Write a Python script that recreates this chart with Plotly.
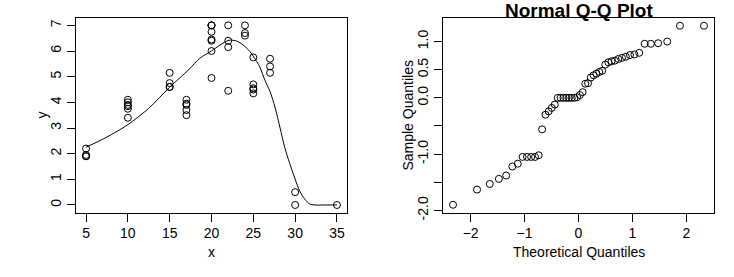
import plotly.graph_objects as go

# ---------------- data ----------------
# left panel: scatter points
scatter_x = [5, 5, 5, 5,
             10, 10, 10, 10, 10, 10,
             15, 15, 15, 15,
             17, 17, 17, 17, 17,
             20, 20, 20, 20, 20, 20, 20, 20,
             22, 22, 22, 22,
             24, 24, 24,
             25, 25, 25, 25, 25,
             27, 27, 27,
             30, 30,
             35]
scatter_y = [2.2, 1.95, 1.9, 1.9,
             4.1, 4.0, 3.9, 3.85, 3.75, 3.4,
             5.15, 4.75, 4.6, 4.6,
             4.1, 3.95, 3.9, 3.7, 3.5,
             7.0, 7.0, 7.0, 6.75, 6.45, 6.4, 6.0, 4.95,
             7.0, 6.4, 6.15, 4.45,
             7.0, 6.7, 6.6,
             5.75, 4.7, 4.55, 4.5, 4.35,
             5.7, 5.4, 5.15,
             0.5, 0.0,
             0.0]

# left panel: fitted smooth curve
curve_x = [5, 7.5, 10, 12.5, 15, 17.3, 18.6, 20, 21, 22.1, 23.0, 23.8, 24.6,
           25.05, 25.77, 26.4, 27.0, 27.6, 28.2, 28.75, 29.35, 29.95, 30.55,
           31.14, 31.74, 32.3, 33.5, 35]
curve_y = [2.25, 2.65, 3.13, 3.77, 4.59, 5.28, 5.72, 6.0, 6.23, 6.42, 6.39,
           6.23, 5.98, 5.77, 5.38, 4.85, 4.42, 3.8, 3.0, 2.25, 1.62, 1.05,
           0.54, 0.23, 0.04, 0.0, 0.0, 0.0]

# right panel: normal Q-Q plot
theoretical_q = [-2.3263, -1.8808, -1.6449, -1.4758, -1.3408, -1.2265, -1.1264,
                 -1.0364, -0.9542, -0.8779, -0.8064, -0.7388, -0.6745, -0.6128,
                 -0.5534, -0.4959, -0.4399, -0.3853, -0.3319, -0.2793, -0.2275,
                 -0.1764, -0.1257, -0.0753, -0.0251,
                 0.0251, 0.0753, 0.1257, 0.1764, 0.2275, 0.2793, 0.3319, 0.3853,
                 0.4399, 0.4959, 0.5534, 0.6128, 0.6745, 0.7388, 0.8064, 0.8779,
                 0.9542, 1.0364, 1.1264, 1.2265, 1.3408, 1.4758, 1.6449, 1.8808,
                 2.3263]
sample_q = [-1.90, -1.63, -1.53, -1.44, -1.38, -1.22, -1.17, -1.05, -1.05, -1.05,
            -1.05, -1.02, -0.56, -0.30, -0.24, -0.18, -0.12, 0.0, 0.0, 0.0,
            0.0, 0.0, 0.0, 0.0, 0.01,
            0.05, 0.10, 0.25, 0.26, 0.36, 0.40, 0.43, 0.46, 0.48, 0.59,
            0.63, 0.65, 0.66, 0.69, 0.71, 0.73, 0.76, 0.77, 0.80, 0.96,
            0.96, 0.97, 1.00, 1.28, 1.28]

left_xticks = [5, 10, 15, 20, 25, 30, 35]
left_yticks = [0, 1, 2, 3, 4, 5, 6, 7]
right_xticks = [-2, -1, 0, 1, 2]
right_yticks = [-2.0, -1.5, -1.0, -0.5, 0.0, 0.5, 1.0]
right_yticktext = ["-2.0", "", "-1.0", "", "0.0", "0.5", "1.0"]

# ---------------- layout helpers ----------------
W, H = 734, 277
FONT = "Liberation Sans, Arial, sans-serif"

def px_x(p):
    return p / W

def px_y(p):
    return 1 - p / H

left_dom = [px_x(76), px_x(347)]
right_dom = [px_x(443), px_x(714)]
y_dom = [px_y(219), px_y(19)]

fig = go.Figure()

marker = dict(symbol="circle-open", size=7, color="black", line=dict(width=1, color="black"))

fig.add_trace(go.Scatter(x=curve_x, y=curve_y, mode="lines",
                         line=dict(color="black", width=1, shape="spline", smoothing=0.8),
                         xaxis="x", yaxis="y", showlegend=False, hoverinfo="skip"))
fig.add_trace(go.Scatter(x=scatter_x, y=scatter_y, mode="markers", marker=marker,
                         xaxis="x", yaxis="y", showlegend=False))
fig.add_trace(go.Scatter(x=theoretical_q, y=sample_q, mode="markers", marker=marker,
                         xaxis="x2", yaxis="y2", showlegend=False))

axis_common = dict(showline=True, linecolor="black", linewidth=1, mirror=True,
                   ticks="outside", ticklen=8, tickwidth=1, tickcolor="black",
                   showgrid=False, zeroline=False,
                   tickfont=dict(family=FONT, size=14, color="black"))

fig.update_layout(
    width=W, height=H, autosize=False,
    margin=dict(l=0, r=0, t=0, b=0, pad=0),
    paper_bgcolor="white", plot_bgcolor="white",
    xaxis=dict(domain=left_dom, range=[3.8, 36.2], tickvals=left_xticks,
               anchor="y", **axis_common),
    yaxis=dict(domain=y_dom, range=[-0.30, 7.27], tickvals=left_yticks,
               tickangle=-90, anchor="x", **axis_common),
    xaxis2=dict(domain=right_dom, range=[-2.512, 2.512], tickvals=right_xticks,
                anchor="y2", **axis_common),
    yaxis2=dict(domain=y_dom, range=[-2.04, 1.41], tickvals=right_yticks,
                ticktext=right_yticktext, tickangle=-90, anchor="x2", **axis_common),
)

ann_font = dict(family=FONT, size=14, color="black")
fig.add_annotation(text="x", x=px_x(211.5), y=px_y(259), xref="paper", yref="paper",
                   showarrow=False, xanchor="center", yanchor="middle", font=ann_font)
fig.add_annotation(text="y", x=px_x(42), y=px_y(119), xref="paper", yref="paper",
                   showarrow=False, xanchor="center", yanchor="middle", textangle=-90,
                   font=ann_font)
fig.add_annotation(text="Theoretical Quantiles", x=px_x(578.5), y=px_y(259),
                   xref="paper", yref="paper", showarrow=False,
                   xanchor="center", yanchor="middle", font=ann_font)
fig.add_annotation(text="Sample Quantiles", x=px_x(408), y=px_y(119),
                   xref="paper", yref="paper", showarrow=False,
                   xanchor="center", yanchor="middle", textangle=-90, font=ann_font)
fig.add_annotation(text="<b>Normal Q-Q Plot</b>", x=px_x(578.5), y=px_y(11),
                   xref="paper", yref="paper", showarrow=False,
                   xanchor="center", yanchor="middle",
                   font=dict(family=FONT, size=19, color="black"))

fig.write_html("out.html", config={"responsive": False})
